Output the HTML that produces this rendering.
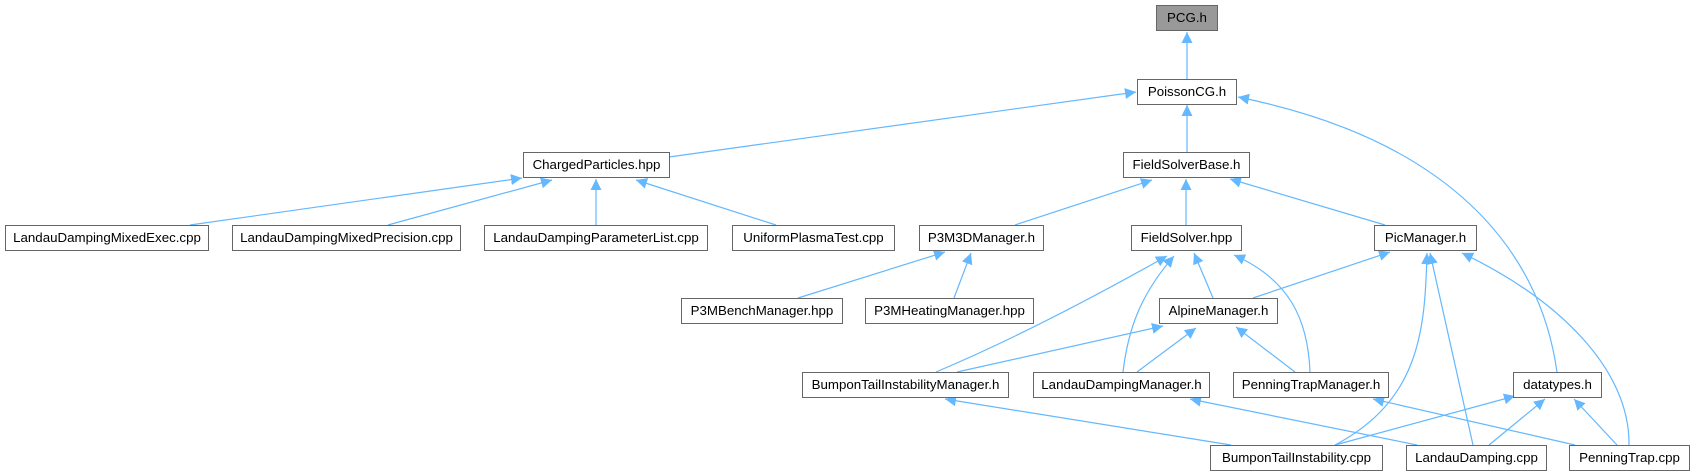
<!DOCTYPE html>
<html><head><meta charset="utf-8"><style>
html,body{margin:0;padding:0;background:#fff;}
body{width:1694px;height:476px;position:relative;overflow:hidden;font-family:"Liberation Sans",Arial,sans-serif;}
.b{position:absolute;height:24px;border:1px solid #666;box-sizing:content-box;background:#fff;font-size:13.3px;line-height:24px;text-align:center;color:#000;white-space:nowrap;}
svg{position:absolute;left:0;top:0;}
</style></head><body>
<svg width="1694" height="476" viewBox="0 0 1694 476">
<defs><marker id="a" markerUnits="userSpaceOnUse" markerWidth="12" markerHeight="11" refX="11" refY="5.5" orient="auto"><path d="M0,0 L11,5.5 L0,11 z" fill="#63b8ff"/></marker></defs>
<g fill="none" stroke="#63b8ff" stroke-width="1.2" marker-end="url(#a)">
<path d="M1187,79 L1187,32"/>
<path d="M669,157 L1136,92"/>
<path d="M1187,152 L1187,105"/>
<path d="M1557,372 C1540,250 1450,140 1238,97"/>
<path d="M190,225 L522,178"/>
<path d="M388,225 L552,180"/>
<path d="M596,225 L596,179"/>
<path d="M776,225 L636,180"/>
<path d="M1015,225 L1152,180"/>
<path d="M1186,225 L1186,179"/>
<path d="M1385,225 L1230,179"/>
<path d="M798,298 L945,252"/>
<path d="M954,298 L971,253"/>
<path d="M1213,298 L1194,253"/>
<path d="M936,372 C1000,345 1080,305 1167,256"/>
<path d="M1123,372 C1128,330 1140,295 1174,256"/>
<path d="M1310,372 C1308,320 1290,280 1234,255"/>
<path d="M1253,298 L1390,252"/>
<path d="M1335,445 C1420,400 1425,330 1427,253"/>
<path d="M1473,445 L1430,253"/>
<path d="M1629,445 C1630,370 1560,300 1462,253"/>
<path d="M957,372 L1163,326"/>
<path d="M1137,372 L1196,328"/>
<path d="M1295,372 L1236,327"/>
<path d="M1231,445 L945,399"/>
<path d="M1417,445 L1190,399"/>
<path d="M1575,445 L1373,399"/>
<path d="M1335,445 L1515,396"/>
<path d="M1489,445 L1545,399"/>
<path d="M1617,445 L1574,399"/>
</g></svg>
<div class="b" style="left:1156px;top:5px;width:60px;background:#999;">PCG.h</div>
<div class="b" style="left:1137px;top:79px;width:98px;">PoissonCG.h</div>
<div class="b" style="left:523px;top:152px;width:145px;">ChargedParticles.hpp</div>
<div class="b" style="left:1123px;top:152px;width:125px;">FieldSolverBase.h</div>
<div class="b" style="left:5px;top:225px;width:202px;">LandauDampingMixedExec.cpp</div>
<div class="b" style="left:232px;top:225px;width:227px;">LandauDampingMixedPrecision.cpp</div>
<div class="b" style="left:484px;top:225px;width:222px;">LandauDampingParameterList.cpp</div>
<div class="b" style="left:732px;top:225px;width:161px;">UniformPlasmaTest.cpp</div>
<div class="b" style="left:919px;top:225px;width:123px;">P3M3DManager.h</div>
<div class="b" style="left:1131px;top:225px;width:109px;">FieldSolver.hpp</div>
<div class="b" style="left:1374px;top:225px;width:101px;">PicManager.h</div>
<div class="b" style="left:681px;top:298px;width:160px;">P3MBenchManager.hpp</div>
<div class="b" style="left:865px;top:298px;width:167px;">P3MHeatingManager.hpp</div>
<div class="b" style="left:1159px;top:298px;width:117px;">AlpineManager.h</div>
<div class="b" style="left:802px;top:372px;width:205px;">BumponTailInstabilityManager.h</div>
<div class="b" style="left:1033px;top:372px;width:175px;">LandauDampingManager.h</div>
<div class="b" style="left:1233px;top:372px;width:154px;">PenningTrapManager.h</div>
<div class="b" style="left:1513px;top:372px;width:87px;">datatypes.h</div>
<div class="b" style="left:1210px;top:445px;width:171px;">BumponTailInstability.cpp</div>
<div class="b" style="left:1406px;top:445px;width:139px;">LandauDamping.cpp</div>
<div class="b" style="left:1569px;top:445px;width:119px;">PenningTrap.cpp</div>
</body></html>
